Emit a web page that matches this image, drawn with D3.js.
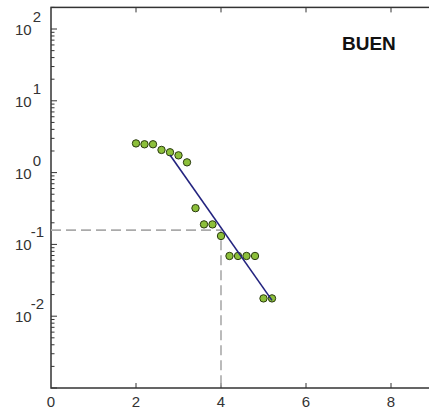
<!DOCTYPE html>
<html>
<head>
<meta charset="utf-8">
<script src="https://cdn.jsdelivr.net/npm/d3@7"></script>
<style>
  body { margin: 0; background: #fff; }
  text { font-family: "Liberation Sans", Arial, sans-serif; fill: #333; }
</style>
</head>
<body>
<svg id="chart" width="429" height="415"></svg>
<script>
// measured points (x, y on log axis)
const xVals = [2.0, 2.2, 2.4, 2.6, 2.8, 3.0, 3.2, 3.4, 3.6, 3.8, 4.0, 4.2, 4.4, 4.6, 4.8, 5.0, 5.2];
const yVals = [2.55, 2.48, 2.48, 2.07, 1.92, 1.74, 1.39, 0.32, 0.19, 0.19, 0.131, 0.069, 0.069, 0.069, 0.069, 0.0177, 0.0177];

// fitted line end points
const fitX = [2.8, 5.2];
const fitY = [1.76, 0.0166];

// reading guide
const guideX = 4;
const guideY = 0.158;

const xTicks = [0, 2, 4, 6, 8];
const yExps = [-2, -1, 0, 1, 2];
const label = "BUEN";

const svg = d3.select("#chart");

const x = d3.scaleLinear().domain([0, 10]).range([51, 476]);
const y = d3.scaleLog().domain([1e-3, 200]).range([388, 7.4]);

const axisColor = "#333";

// minor + major ticks on the left axis
let yTickVals = [];
for (let e = -3; e <= 2; e++) {
    for (let m = 1; m <= 9; m++) {
        let v = m * Math.pow(10, e);
        if (v <= 200) yTickVals.push(v);
    }
}

const g = svg.append("g");

g.selectAll(".ytick")
    .data(yTickVals)
    .join("line")
    .attr("x1", x(0))
    .attr("x2", d => x(0) + (Math.abs(Math.log10(d) - Math.round(Math.log10(d))) < 1e-9 ? 6 : 3.5))
    .attr("y1", d => y(d))
    .attr("y2", d => y(d))
    .attr("stroke", axisColor)
    .attr("stroke-width", 1);

// x ticks bottom (up) and top (down)
g.selectAll(".xtickb")
    .data(xTicks.slice(1))
    .join("line")
    .attr("x1", d => x(d)).attr("x2", d => x(d))
    .attr("y1", y(1e-3)).attr("y2", y(1e-3) - 5)
    .attr("stroke", axisColor);
g.selectAll(".xtickt")
    .data(xTicks.slice(1))
    .join("line")
    .attr("x1", d => x(d)).attr("x2", d => x(d))
    .attr("y1", y(200)).attr("y2", y(200) + 5)
    .attr("stroke", axisColor);

// frame
g.append("rect")
    .attr("x", x(0))
    .attr("y", y(200))
    .attr("width", x(10) - x(0))
    .attr("height", y(1e-3) - y(200))
    .attr("fill", "none")
    .attr("stroke", axisColor)
    .attr("stroke-width", 1.5);

// x labels
g.selectAll(".xlab")
    .data(xTicks)
    .join("text")
    .attr("x", d => x(d))
    .attr("y", 407)
    .attr("text-anchor", "middle")
    .attr("font-size", 15)
    .text(d => d);

// y labels 10^n
const ylab = g.selectAll(".ylab")
    .data(yExps)
    .join("text")
    .attr("x", 15)
    .attr("y", d => y(Math.pow(10, d)) + 6)
    .attr("font-size", 15);
ylab.append("tspan").text("10");
ylab.append("tspan")
    .attr("dy", -13)
    .attr("dx", d => d < 0 ? -1 : 1)
    .attr("font-size", 15)
    .text(d => d);

// dashed guide
const guide = d3.line().x(d => x(d[0])).y(d => y(d[1]));
g.append("path")
    .attr("d", guide([[0, guideY], [guideX, guideY], [guideX, 1e-3]]))
    .attr("fill", "none")
    .attr("stroke", "#aaa")
    .attr("stroke-width", 1.6)
    .attr("stroke-dasharray", "10,5");

// points
g.selectAll(".pt")
    .data(xVals.map((d, i) => [d, yVals[i]]))
    .join("circle")
    .attr("cx", d => x(d[0]))
    .attr("cy", d => y(d[1]))
    .attr("r", 3.7)
    .attr("fill", "#8cbf3a")
    .attr("stroke", "#2a3a10")
    .attr("stroke-width", 1);

// fit line
g.append("path")
    .attr("d", guide(fitX.map((d, i) => [d, fitY[i]])))
    .attr("stroke", "#23237f")
    .attr("stroke-width", 1.6)
    .attr("fill", "none");

g.append("text")
    .attr("x", 342)
    .attr("y", 50)
    .attr("font-size", 19)
    .attr("font-weight", "bold")
    .style("fill", "#111")
    .text(label);
</script>
</body>
</html>
